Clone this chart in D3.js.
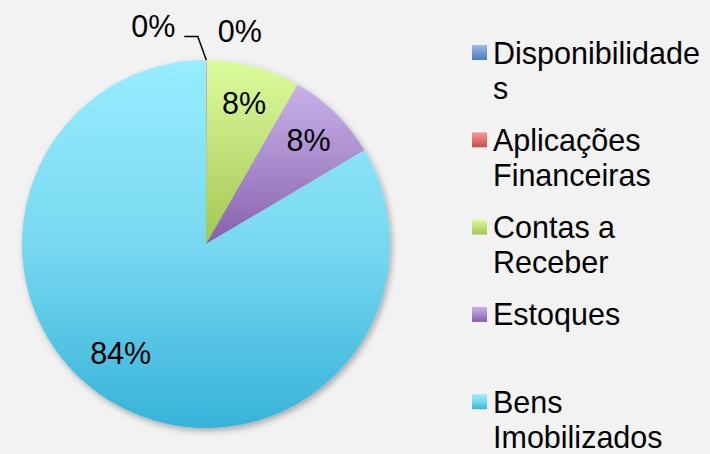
<!DOCTYPE html>
<html>
<head>
<meta charset="utf-8">
<script src="https://cdn.jsdelivr.net/npm/d3@7"></script>
<style>
  html, body { margin: 0; padding: 0; background: #f2f2f2; }
  svg { display: block; font-family: "Liberation Sans", Arial, sans-serif; }
</style>
</head>
<body>
<div id="chart"></div>
<script>
// data (percent of total)
var categories = ["Disponibilidades", "Aplicações Financeiras", "Contas a Receber", "Estoques", "Bens Imobilizados"];
var values = [0.05, 0.05, 8.2, 8.2, 83.5];
var colorsLight = ["#9bbcf0", "#f89b9b", "#dcfd9c", "#c9b1e9", "#98edff"];
var colorsMid = ["#7199d6", "#dc7471", "#c0e07a", "#a88bcc", "#78d8f0"];
var colorsDark = ["#4a7ebb", "#c0504d", "#a2c84e", "#8560ad", "#37b3d9"];

var width = 710, height = 454;
var cx = 206, cy = 244, radius = 184;

var data = categories.map(function(c, i){
    return {name: c, value: values[i], i: i};
});
var total = d3.sum(values);

var svg = d3.select("#chart").append("svg")
    .attr("width", width)
    .attr("height", height);

svg.append("rect")
    .attr("width", width)
    .attr("height", height)
    .attr("fill", "#f2f2f2");

var defs = svg.append("defs");

// one vertical gradient per category, used by slices and legend keys
data.forEach(function(d){
    var g = defs.append("linearGradient")
        .attr("id", "grad" + d.i)
        .attr("x1", 0).attr("y1", 0)
        .attr("x2", 0).attr("y2", 1);
    g.append("stop").attr("offset", "0%").attr("stop-color", colorsLight[d.i]);
    g.append("stop").attr("offset", "50%").attr("stop-color", colorsMid[d.i]);
    g.append("stop").attr("offset", "100%").attr("stop-color", colorsDark[d.i]);
});

var shadow = defs.append("filter")
    .attr("id", "shadow")
    .attr("x", "-10%").attr("y", "-10%")
    .attr("width", "120%").attr("height", "120%");
shadow.append("feDropShadow")
    .attr("dx", 2).attr("dy", 3)
    .attr("stdDeviation", 3)
    .attr("flood-color", "#000")
    .attr("flood-opacity", 0.3);

var pie = d3.pie()
    .sort(null)
    .value(function(d){ return d.value; });

var arc = d3.arc()
    .innerRadius(0)
    .outerRadius(radius);

var labelArc = d3.arc()
    .innerRadius(146)
    .outerRadius(146);

var arcs = pie(data);

var g = svg.append("g")
    .attr("transform", "translate(" + cx + "," + cy + ")");

g.append("g")
    .attr("filter", "url(#shadow)")
    .selectAll("path")
    .data(arcs)
    .enter()
    .append("path")
    .attr("d", arc)
    .attr("fill", function(d){ return "url(#grad" + d.data.i + ")"; });

// labels
var fontSize = 30.5;
var labelShift = {"Bens Imobilizados": [-13, -18]};

arcs.forEach(function(d){
    var pct = Math.round(d.data.value * 100 / total) + "%";
    if(d.data.value * 100 / total >= 1){
        var c = labelArc.centroid(d);
        var s = labelShift[d.data.name] || [0, 0];
        g.append("text")
            .attr("x", c[0] + s[0])
            .attr("y", c[1] + s[1] + 11)
            .attr("text-anchor", "middle")
            .attr("font-size", fontSize)
            .attr("fill", "#000")
            .text(pct);
    }
    else{
        // tiny slices: labels outside the top of the pie
        var a = (d.startAngle + d.endAngle) / 2;
        var ox = radius * Math.sin(a), oy = -radius * Math.cos(a);
        if(d.index === 0){
            g.append("path")
                .attr("d", "M" + ox + "," + oy + "L" + (ox - 8.5) + "," + (oy - 23.5) + "L" + (ox - 22) + "," + (oy - 23.5))
                .attr("fill", "none")
                .attr("stroke", "#000")
                .attr("stroke-width", 1.5);
            g.append("text")
                .attr("x", ox - 31)
                .attr("y", oy - 23)
                .attr("text-anchor", "end")
                .attr("font-size", fontSize)
                .attr("fill", "#000")
                .text(pct);
        }
        else{
            g.append("text")
                .attr("x", ox + 11)
                .attr("y", oy - 18.5)
                .attr("text-anchor", "start")
                .attr("font-size", fontSize)
                .attr("fill", "#000")
                .text(pct);
        }
    }
});

// legend
var legendX = 472, textX = 493, firstBaseline = 63.5, entryStep = 87.3, lineStep = 35, maxWidth = 214;

var legend = svg.append("g");

function wrapLines(textSel, str){
    // word wrap, breaking long words by character
    var words = str.split(" ");
    var lines = [];
    var cur = "";
    var measure = function(s){
        textSel.text(s);
        return textSel.node().getComputedTextLength();
    };
    words.forEach(function(w){
        var tryStr = cur ? cur + " " + w : w;
        if(measure(tryStr) <= maxWidth){
            cur = tryStr;
            return;
        }
        if(cur) lines.push(cur);
        cur = "";
        var piece = "";
        w.split("").forEach(function(ch){
            if(measure(piece + ch) <= maxWidth){
                piece += ch;
            } else {
                lines.push(piece);
                piece = ch;
            }
        });
        cur = piece;
    });
    if(cur) lines.push(cur);
    textSel.text(null);
    return lines;
}

data.forEach(function(d, i){
    var baseline = firstBaseline + i * entryStep;
    legend.append("rect")
        .attr("x", legendX)
        .attr("y", baseline - 18.5)
        .attr("width", 15)
        .attr("height", 15)
        .attr("fill", "url(#grad" + d.i + ")");
    var t = legend.append("text")
        .attr("x", textX)
        .attr("y", baseline)
        .attr("font-size", fontSize)
        .attr("fill", "#000");
    var lines = wrapLines(t, d.name);
    lines.forEach(function(l, k){
        t.append("tspan")
            .attr("x", textX)
            .attr("y", baseline + k * lineStep)
            .text(l);
    });
});
</script>
</body>
</html>
